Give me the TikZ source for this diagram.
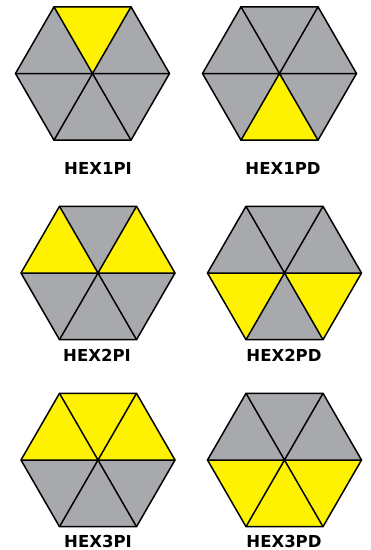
\documentclass[tikz,border=0pt]{standalone}
\usepackage{fontspec}
\setmainfont{DejaVu Sans}
\definecolor{hexgray}{RGB}{167,169,172}
\definecolor{hexyellow}{RGB}{255,242,0}
\tikzset{
  hexline/.style={draw=black,line width=1.5pt,line join=miter},
  hexlabel/.style={font=\fontsize{16.5}{18}\selectfont\bfseries,inner sep=0pt,anchor=center}
}
\newcommand\hexagram[3]{%
  \begin{scope}[shift={(#1,#2)}]
    \fill[hexgray] (0:77)--(60:77)--(120:77)--(180:77)--(240:77)--(300:77)--cycle;
    \foreach \a in {#3}{\fill[hexyellow] (0,0)--(\a:77)--(\a+60:77)--cycle;}
    \draw[hexline] (0:77)--(180:77) (60:77)--(240:77) (120:77)--(300:77);
    \draw[hexline] (0:77)--(60:77)--(120:77)--(180:77)--(240:77)--(300:77)--cycle;
  \end{scope}}
\begin{document}
\begin{tikzpicture}[x=1pt,y=-1pt]
\useasboundingbox (0,0) rectangle (371,550);
\hexagram{92.5}{73.5}{240}
\hexagram{279.5}{73.5}{60}
\hexagram{98}{273}{180,300}
\hexagram{284.5}{273}{0,120}
\hexagram{98}{460}{180,240,300}
\hexagram{284.5}{460}{0,60,120}
\node[hexlabel] (l1) at (98,168) {HEX1PI};
\node[hexlabel] (l2) at (283,168) {HEX1PD};
\node[hexlabel] (l3) at (97,355) {HEX2PI};
\node[hexlabel] (l4) at (284,355) {HEX2PD};
\node[hexlabel] (l5) at (98,541.5) {HEX3PI};
\node[hexlabel] (l6) at (284,541.5) {HEX3PD};
\end{tikzpicture}
\end{document}
